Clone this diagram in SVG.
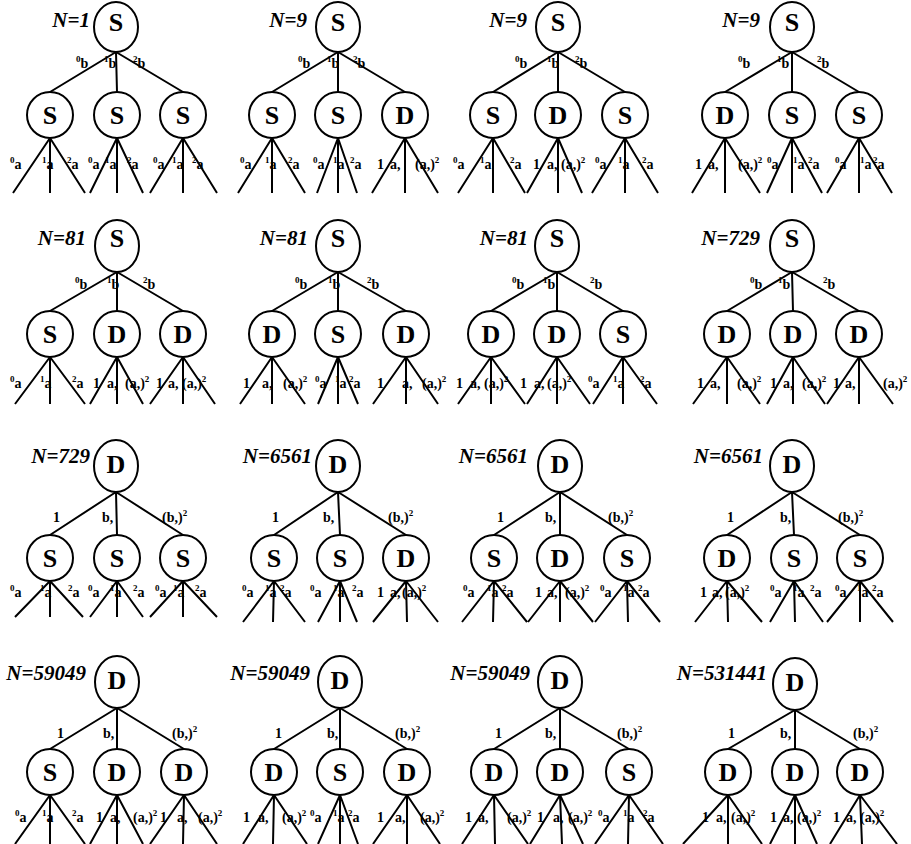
<svg xmlns="http://www.w3.org/2000/svg" width="911" height="844" viewBox="0 0 911 844">
<style>
text{font-family:"Times New Roman",Times,"Liberation Serif","DejaVu Serif","Noto Serif",serif}
.n{fill:#fff;stroke:#000;stroke-width:2}
.c path{fill:none;stroke:#000;stroke-width:2}
.t{font-weight:bold;font-size:26px;text-anchor:middle;fill:#000}
.l text{font-weight:bold;font-size:14px;fill:#000}
.s{font-size:9px}
.h{font-weight:bold;font-style:italic;font-size:21px;text-anchor:end;fill:#000}
</style>
<rect width="911" height="844" fill="#fff"/>
<g id="connectors" class="c">
<path d="M116 52L50 92M116 52L117 92M116 52L183 92M50 138L13 193M50 138L50 193M50 138L85 193M117 138L90 193M117 138L117 193M117 138L143 193M183 138L150 193M183 138L183 193M183 138L217 193"/>
<path d="M338 52L272 92M338 52L338 92M338 52L405 92M272 138L238 193M272 138L272 193M272 138L305 193M338 138L317 193M338 138L338 193M338 138L357 193M405 138L372 193M405 138L405 193M405 138L438 193"/>
<path d="M558 52L493 92M558 52L558 92M558 52L625 92M493 138L458 193M493 138L493 193M493 138L525 193M558 138L527 193M558 138L558 193M558 138L582 193M625 138L592 193M625 138L625 193M625 138L658 193"/>
<path d="M792 52L725 92M792 52L792 92M792 52L859 92M725 138L692 193M725 138L725 193M725 138L760 193M792 138L767 193M792 138L792 193M792 138L822 193M859 138L827 193M859 138L859 193M859 138L892 193"/>
<path d="M117 272L50 311M117 272L117 311M117 272L183 311M50 357L15 404M50 357L50 404M50 357L85 404M117 357L90 404M117 357L117 404M117 357L143 404M183 357L150 404M183 357L183 404M183 357L215 404"/>
<path d="M338 272L272 311M338 272L338 311M338 272L406 311M272 357L240 404M272 357L272 404M272 357L305 404M338 357L318 404M338 357L338 404M338 357L358 404M406 357L373 404M406 357L406 404M406 357L438 404"/>
<path d="M557 272L491 311M557 272L557 311M557 272L623 311M491 357L458 404M491 357L491 404M491 357L525 404M557 357L527 404M557 357L557 404M557 357L590 404M623 357L593 404M623 357L623 404M623 357L657 404"/>
<path d="M792 272L727 311M792 272L793 311M792 272L859 311M727 357L693 404M727 357L727 404M727 357L760 404M793 357L767 404M793 357L793 404M793 357L825 404M859 357L827 404M859 357L859 404M859 357L893 404"/>
<path d="M116 492L50 535M116 492L117 535M116 492L183 535M50 581L15 617M50 581L50 617M50 581L83 617M117 581L90 617M117 581L117 617M117 581L143 617M183 581L150 617M183 581L183 617M183 581L217 617"/>
<path d="M338 492L274 535M338 492L340 535M338 492L406 535M274 581L243 622M274 581L273 622M274 581L305 622M340 581L318 622M340 581L340 622M340 581L357 622M406 581L373 622M406 581L407 622M406 581L438 622"/>
<path d="M560 492L494 535M560 492L560 535M560 492L627 535M494 581L462 622M494 581L493 622M494 581L527 622M560 581L528 622M560 581L560 622M560 581L593 622M627 581L595 622M627 581L628 622M627 581L660 622"/>
<path d="M792 492L727 535M792 492L794 535M792 492L860 535M727 581L695 622M727 581L728 622M727 581L762 622M794 581L770 622M794 581L795 622M794 581L823 622M860 581L827 622M860 581L860 622M860 581L893 622"/>
<path d="M117 708L50 749M117 708L117 749M117 708L184 749M50 795L15 844M50 795L50 844M50 795L85 844M117 795L90 844M117 795L117 844M117 795L143 844M184 795L150 844M184 795L183 844M184 795L217 844"/>
<path d="M340 708L274 749M340 708L340 749M340 708L407 749M274 795L243 844M274 795L273 844M274 795L307 844M340 795L318 844M340 795L340 844M340 795L358 844M407 795L373 844M407 795L407 844M407 795L440 844"/>
<path d="M560 708L494 749M560 708L560 749M560 708L629 749M494 795L462 844M494 795L495 844M494 795L528 844M560 795L530 844M560 795L562 844M560 795L583 844M629 795L595 844M629 795L628 844M629 795L663 844"/>
<path d="M795 710L728 749M795 710L795 749M795 710L860 749M728 795L683 844M728 795L728 844M728 795L762 844M795 795L770 844M795 795L795 844M795 795L817 844M860 795L830 844M860 795L862 844M860 795L897 844"/>
</g>
<!-- Row 1 nodes -->
<g id="r1t1-root"><ellipse class="n" cx="116" cy="27" rx="22" ry="25"/><text class="t" x="116" y="31">S</text></g>
<g id="r1t1-c1"><circle class="n" cx="50" cy="115" r="23"/><text class="t" x="50" y="124">S</text></g>
<g id="r1t1-c2"><circle class="n" cx="117" cy="115" r="23"/><text class="t" x="117" y="124">S</text></g>
<g id="r1t1-c3"><circle class="n" cx="183" cy="115" r="23"/><text class="t" x="183" y="124">S</text></g>
<g id="r1t2-root"><ellipse class="n" cx="338" cy="27" rx="22" ry="25"/><text class="t" x="338" y="31">S</text></g>
<g id="r1t2-c1"><circle class="n" cx="272" cy="115" r="23"/><text class="t" x="272" y="124">S</text></g>
<g id="r1t2-c2"><circle class="n" cx="338" cy="115" r="23"/><text class="t" x="338" y="124">S</text></g>
<g id="r1t2-c3"><circle class="n" cx="405" cy="115" r="23"/><text class="t" x="405" y="124">D</text></g>
<g id="r1t3-root"><ellipse class="n" cx="558" cy="27" rx="22" ry="25"/><text class="t" x="558" y="31">S</text></g>
<g id="r1t3-c1"><circle class="n" cx="493" cy="115" r="23"/><text class="t" x="493" y="124">S</text></g>
<g id="r1t3-c2"><circle class="n" cx="558" cy="115" r="23"/><text class="t" x="558" y="124">D</text></g>
<g id="r1t3-c3"><circle class="n" cx="625" cy="115" r="23"/><text class="t" x="625" y="124">S</text></g>
<g id="r1t4-root"><ellipse class="n" cx="792" cy="27" rx="22" ry="25"/><text class="t" x="792" y="31">S</text></g>
<g id="r1t4-c1"><circle class="n" cx="725" cy="115" r="23"/><text class="t" x="725" y="124">D</text></g>
<g id="r1t4-c2"><circle class="n" cx="792" cy="115" r="23"/><text class="t" x="792" y="124">S</text></g>
<g id="r1t4-c3"><circle class="n" cx="859" cy="115" r="23"/><text class="t" x="859" y="124">S</text></g>
<!-- Row 2 nodes -->
<g id="r2t1-root"><ellipse class="n" cx="117" cy="246" rx="22" ry="26"/><text class="t" x="117" y="247">S</text></g>
<g id="r2t1-c1"><circle class="n" cx="50" cy="334" r="23"/><text class="t" x="50" y="343">S</text></g>
<g id="r2t1-c2"><circle class="n" cx="117" cy="334" r="23"/><text class="t" x="117" y="343">D</text></g>
<g id="r2t1-c3"><circle class="n" cx="183" cy="334" r="23"/><text class="t" x="183" y="343">D</text></g>
<g id="r2t2-root"><ellipse class="n" cx="338" cy="246" rx="22" ry="26"/><text class="t" x="338" y="247">S</text></g>
<g id="r2t2-c1"><circle class="n" cx="272" cy="334" r="23"/><text class="t" x="272" y="343">D</text></g>
<g id="r2t2-c2"><circle class="n" cx="338" cy="334" r="23"/><text class="t" x="338" y="343">S</text></g>
<g id="r2t2-c3"><circle class="n" cx="406" cy="334" r="23"/><text class="t" x="406" y="343">D</text></g>
<g id="r2t3-root"><ellipse class="n" cx="557" cy="246" rx="22" ry="26"/><text class="t" x="557" y="247">S</text></g>
<g id="r2t3-c1"><circle class="n" cx="491" cy="334" r="23"/><text class="t" x="491" y="343">D</text></g>
<g id="r2t3-c2"><circle class="n" cx="557" cy="334" r="23"/><text class="t" x="557" y="343">D</text></g>
<g id="r2t3-c3"><circle class="n" cx="623" cy="334" r="23"/><text class="t" x="623" y="343">S</text></g>
<g id="r2t4-root"><ellipse class="n" cx="792" cy="246" rx="22" ry="26"/><text class="t" x="792" y="247">S</text></g>
<g id="r2t4-c1"><circle class="n" cx="727" cy="334" r="23"/><text class="t" x="727" y="343">D</text></g>
<g id="r2t4-c2"><circle class="n" cx="793" cy="334" r="23"/><text class="t" x="793" y="343">D</text></g>
<g id="r2t4-c3"><circle class="n" cx="859" cy="334" r="23"/><text class="t" x="859" y="343">D</text></g>
<!-- Row 3 nodes -->
<g id="r3t1-root"><ellipse class="n" cx="116" cy="466" rx="22" ry="26"/><text class="t" x="116" y="473">D</text></g>
<g id="r3t1-c1"><circle class="n" cx="50" cy="558" r="23"/><text class="t" x="50" y="567">S</text></g>
<g id="r3t1-c2"><circle class="n" cx="117" cy="558" r="23"/><text class="t" x="117" y="567">S</text></g>
<g id="r3t1-c3"><circle class="n" cx="183" cy="558" r="23"/><text class="t" x="183" y="567">S</text></g>
<g id="r3t2-root"><ellipse class="n" cx="338" cy="466" rx="22" ry="26"/><text class="t" x="338" y="473">D</text></g>
<g id="r3t2-c1"><circle class="n" cx="274" cy="558" r="23"/><text class="t" x="274" y="567">S</text></g>
<g id="r3t2-c2"><circle class="n" cx="340" cy="558" r="23"/><text class="t" x="340" y="567">S</text></g>
<g id="r3t2-c3"><circle class="n" cx="406" cy="558" r="23"/><text class="t" x="406" y="567">D</text></g>
<g id="r3t3-root"><ellipse class="n" cx="560" cy="466" rx="22" ry="26"/><text class="t" x="560" y="473">D</text></g>
<g id="r3t3-c1"><circle class="n" cx="494" cy="558" r="23"/><text class="t" x="494" y="567">S</text></g>
<g id="r3t3-c2"><circle class="n" cx="560" cy="558" r="23"/><text class="t" x="560" y="567">D</text></g>
<g id="r3t3-c3"><circle class="n" cx="627" cy="558" r="23"/><text class="t" x="627" y="567">S</text></g>
<g id="r3t4-root"><ellipse class="n" cx="792" cy="466" rx="22" ry="26"/><text class="t" x="792" y="473">D</text></g>
<g id="r3t4-c1"><circle class="n" cx="727" cy="558" r="23"/><text class="t" x="727" y="567">D</text></g>
<g id="r3t4-c2"><circle class="n" cx="794" cy="558" r="23"/><text class="t" x="794" y="567">S</text></g>
<g id="r3t4-c3"><circle class="n" cx="860" cy="558" r="23"/><text class="t" x="860" y="567">S</text></g>
<!-- Row 4 nodes -->
<g id="r4t1-root"><ellipse class="n" cx="117" cy="682" rx="22" ry="26"/><text class="t" x="117" y="689">D</text></g>
<g id="r4t1-c1"><circle class="n" cx="50" cy="772" r="23"/><text class="t" x="50" y="781">S</text></g>
<g id="r4t1-c2"><circle class="n" cx="117" cy="772" r="23"/><text class="t" x="117" y="781">D</text></g>
<g id="r4t1-c3"><circle class="n" cx="184" cy="772" r="23"/><text class="t" x="184" y="781">D</text></g>
<g id="r4t2-root"><ellipse class="n" cx="340" cy="682" rx="22" ry="26"/><text class="t" x="340" y="689">D</text></g>
<g id="r4t2-c1"><circle class="n" cx="274" cy="772" r="23"/><text class="t" x="274" y="781">D</text></g>
<g id="r4t2-c2"><circle class="n" cx="340" cy="772" r="23"/><text class="t" x="340" y="781">S</text></g>
<g id="r4t2-c3"><circle class="n" cx="407" cy="772" r="23"/><text class="t" x="407" y="781">D</text></g>
<g id="r4t3-root"><ellipse class="n" cx="560" cy="682" rx="22" ry="26"/><text class="t" x="560" y="689">D</text></g>
<g id="r4t3-c1"><circle class="n" cx="494" cy="772" r="23"/><text class="t" x="494" y="781">D</text></g>
<g id="r4t3-c2"><circle class="n" cx="560" cy="772" r="23"/><text class="t" x="560" y="781">D</text></g>
<g id="r4t3-c3"><circle class="n" cx="629" cy="772" r="23"/><text class="t" x="629" y="781">S</text></g>
<g id="r4t4-root"><ellipse class="n" cx="795" cy="684" rx="22" ry="26"/><text class="t" x="795" y="691">D</text></g>
<g id="r4t4-c1"><circle class="n" cx="728" cy="772" r="23"/><text class="t" x="728" y="781">D</text></g>
<g id="r4t4-c2"><circle class="n" cx="795" cy="772" r="23"/><text class="t" x="795" y="781">D</text></g>
<g id="r4t4-c3"><circle class="n" cx="860" cy="772" r="23"/><text class="t" x="860" y="781">D</text></g>
<!-- Titles -->
<g id="titles">
<text class="h" x="90" y="27">N=1</text>
<text class="h" x="307" y="27">N=9</text>
<text class="h" x="527" y="27">N=9</text>
<text class="h" x="760" y="27">N=9</text>
<text class="h" x="86" y="245">N=81</text>
<text class="h" x="308" y="245">N=81</text>
<text class="h" x="528" y="245">N=81</text>
<text class="h" x="760" y="245">N=729</text>
<text class="h" x="90" y="463">N=729</text>
<text class="h" x="312" y="463">N=6561</text>
<text class="h" x="528" y="463">N=6561</text>
<text class="h" x="763" y="463">N=6561</text>
<text class="h" x="86" y="680">N=59049</text>
<text class="h" x="310" y="680">N=59049</text>
<text class="h" x="530" y="680">N=59049</text>
<text class="h" x="767" y="680">N=531441</text>
</g>
<g id="labels" class="l">
<!-- Row 1 edge labels -->
<text x="76" y="68"><tspan class="s" dy="-6">0</tspan><tspan dy="6">b</tspan></text>
<text x="104" y="68"><tspan class="s" dy="-6">1</tspan><tspan dy="6">b</tspan></text>
<text x="133" y="68"><tspan class="s" dy="-6">2</tspan><tspan dy="6">b</tspan></text>
<text x="298" y="68"><tspan class="s" dy="-6">0</tspan><tspan dy="6">b</tspan></text>
<text x="327" y="68"><tspan class="s" dy="-6">1</tspan><tspan dy="6">b</tspan></text>
<text x="353" y="68"><tspan class="s" dy="-6">2</tspan><tspan dy="6">b</tspan></text>
<text x="515" y="68"><tspan class="s" dy="-6">0</tspan><tspan dy="6">b</tspan></text>
<text x="547" y="68"><tspan class="s" dy="-6">1</tspan><tspan dy="6">b</tspan></text>
<text x="575" y="68"><tspan class="s" dy="-6">2</tspan><tspan dy="6">b</tspan></text>
<text x="738" y="68"><tspan class="s" dy="-6">0</tspan><tspan dy="6">b</tspan></text>
<text x="777" y="68"><tspan class="s" dy="-6">1</tspan><tspan dy="6">b</tspan></text>
<text x="817" y="68"><tspan class="s" dy="-6">2</tspan><tspan dy="6">b</tspan></text>
<!-- Row 1 leaf labels -->
<text x="10" y="169"><tspan class="s" dy="-6">0</tspan><tspan dy="6">a</tspan></text>
<text x="42" y="169"><tspan class="s" dy="-6">1</tspan><tspan dy="6">a</tspan></text>
<text x="67" y="169"><tspan class="s" dy="-6">2</tspan><tspan dy="6">a</tspan></text>
<text x="88" y="169"><tspan class="s" dy="-6">0</tspan><tspan dy="6">a</tspan></text>
<text x="105" y="169"><tspan class="s" dy="-6">1</tspan><tspan dy="6">a</tspan></text>
<text x="127" y="169"><tspan class="s" dy="-6">2</tspan><tspan dy="6">a</tspan></text>
<text x="153" y="169"><tspan class="s" dy="-6">0</tspan><tspan dy="6">a</tspan></text>
<text x="172" y="169"><tspan class="s" dy="-6">1</tspan><tspan dy="6">a</tspan></text>
<text x="192" y="169"><tspan class="s" dy="-6">2</tspan><tspan dy="6">a</tspan></text>
<text x="240" y="169"><tspan class="s" dy="-6">0</tspan><tspan dy="6">a</tspan></text>
<text x="265" y="169"><tspan class="s" dy="-6">1</tspan><tspan dy="6">a</tspan></text>
<text x="288" y="169"><tspan class="s" dy="-6">2</tspan><tspan dy="6">a</tspan></text>
<text x="313" y="169"><tspan class="s" dy="-6">0</tspan><tspan dy="6">a</tspan></text>
<text x="333" y="169"><tspan class="s" dy="-6">1</tspan><tspan dy="6">a</tspan></text>
<text x="350" y="169"><tspan class="s" dy="-6">2</tspan><tspan dy="6">a</tspan></text>
<text x="377" y="169">1</text><text x="390" y="169">a,</text><text x="415" y="169">(a,)<tspan class="s" dy="-6">2</tspan></text>
<text x="453" y="169"><tspan class="s" dy="-6">0</tspan><tspan dy="6">a</tspan></text>
<text x="480" y="169"><tspan class="s" dy="-6">1</tspan><tspan dy="6">a</tspan></text>
<text x="510" y="169"><tspan class="s" dy="-6">2</tspan><tspan dy="6">a</tspan></text>
<text x="533" y="169">1</text><text x="547" y="169">a,</text><text x="561" y="169">(a,)<tspan class="s" dy="-6">2</tspan></text>
<text x="595" y="169"><tspan class="s" dy="-6">0</tspan><tspan dy="6">a</tspan></text>
<text x="618" y="169"><tspan class="s" dy="-6">1</tspan><tspan dy="6">a</tspan></text>
<text x="642" y="169"><tspan class="s" dy="-6">2</tspan><tspan dy="6">a</tspan></text>
<text x="695" y="169">1</text><text x="708" y="169">a,</text><text x="738" y="169">(a,)<tspan class="s" dy="-6">2</tspan></text>
<text x="767" y="169"><tspan class="s" dy="-6">0</tspan><tspan dy="6">a</tspan></text>
<text x="793" y="169"><tspan class="s" dy="-6">1</tspan><tspan dy="6">a</tspan></text>
<text x="808" y="169"><tspan class="s" dy="-6">2</tspan><tspan dy="6">a</tspan></text>
<text x="835" y="169"><tspan class="s" dy="-6">0</tspan><tspan dy="6">a</tspan></text>
<text x="860" y="169"><tspan class="s" dy="-6">1</tspan><tspan dy="6">a</tspan></text>
<text x="873" y="169"><tspan class="s" dy="-6">2</tspan><tspan dy="6">a</tspan></text>
<!-- Row 2 edge labels -->
<text x="75" y="289"><tspan class="s" dy="-6">0</tspan><tspan dy="6">b</tspan></text>
<text x="107" y="289"><tspan class="s" dy="-6">1</tspan><tspan dy="6">b</tspan></text>
<text x="143" y="289"><tspan class="s" dy="-6">2</tspan><tspan dy="6">b</tspan></text>
<text x="295" y="289"><tspan class="s" dy="-6">0</tspan><tspan dy="6">b</tspan></text>
<text x="328" y="289"><tspan class="s" dy="-6">1</tspan><tspan dy="6">b</tspan></text>
<text x="367" y="289"><tspan class="s" dy="-6">2</tspan><tspan dy="6">b</tspan></text>
<text x="512" y="289"><tspan class="s" dy="-6">0</tspan><tspan dy="6">b</tspan></text>
<text x="543" y="289"><tspan class="s" dy="-6">1</tspan><tspan dy="6">b</tspan></text>
<text x="590" y="289"><tspan class="s" dy="-6">2</tspan><tspan dy="6">b</tspan></text>
<text x="750" y="289"><tspan class="s" dy="-6">0</tspan><tspan dy="6">b</tspan></text>
<text x="778" y="289"><tspan class="s" dy="-6">1</tspan><tspan dy="6">b</tspan></text>
<text x="823" y="289"><tspan class="s" dy="-6">2</tspan><tspan dy="6">b</tspan></text>
<!-- Row 2 leaf labels -->
<text x="10" y="388"><tspan class="s" dy="-6">0</tspan><tspan dy="6">a</tspan></text>
<text x="40" y="388"><tspan class="s" dy="-6">1</tspan><tspan dy="6">a</tspan></text>
<text x="72" y="388"><tspan class="s" dy="-6">2</tspan><tspan dy="6">a</tspan></text>
<text x="93" y="388">1</text><text x="107" y="388">a,</text><text x="125" y="388">(a,)<tspan class="s" dy="-6">2</tspan></text>
<text x="156" y="388">1</text><text x="168" y="388">a,</text><text x="182" y="388">(a,)<tspan class="s" dy="-6">2</tspan></text>
<text x="243" y="388">1</text><text x="262" y="388">a,</text><text x="283" y="388">(a,)<tspan class="s" dy="-6">2</tspan></text>
<text x="315" y="388"><tspan class="s" dy="-6">0</tspan><tspan dy="6">a</tspan></text>
<text x="335" y="388"><tspan class="s" dy="-6">1</tspan><tspan dy="6">a</tspan></text>
<text x="349" y="388"><tspan class="s" dy="-6">2</tspan><tspan dy="6">a</tspan></text>
<text x="377" y="388">1</text><text x="402" y="388">a,</text><text x="422" y="388">(a,)<tspan class="s" dy="-6">2</tspan></text>
<text x="456" y="388">1</text><text x="470" y="388">a,</text><text x="484" y="388">(a,)<tspan class="s" dy="-6">2</tspan></text>
<text x="520" y="388">1</text><text x="534" y="388">a,</text><text x="547" y="388">(a,)<tspan class="s" dy="-6">2</tspan></text>
<text x="588" y="388"><tspan class="s" dy="-6">0</tspan><tspan dy="6">a</tspan></text>
<text x="613" y="388"><tspan class="s" dy="-6">1</tspan><tspan dy="6">a</tspan></text>
<text x="640" y="388"><tspan class="s" dy="-6">2</tspan><tspan dy="6">a</tspan></text>
<text x="697" y="388">1</text><text x="710" y="388">a,</text><text x="737" y="388">(a,)<tspan class="s" dy="-6">2</tspan></text>
<text x="770" y="388">1</text><text x="783" y="388">a,</text><text x="802" y="388">(a,)<tspan class="s" dy="-6">2</tspan></text>
<text x="833" y="388">1</text><text x="845" y="388">a,</text><text x="883" y="388">(a,)<tspan class="s" dy="-6">2</tspan></text>
<!-- Row 3 edge labels -->
<text x="53" y="522">1</text><text x="102" y="522">b,</text><text x="162" y="522">(b,)<tspan class="s" dy="-6">2</tspan></text>
<text x="272" y="522">1</text><text x="323" y="522">b,</text><text x="388" y="522">(b,)<tspan class="s" dy="-6">2</tspan></text>
<text x="497" y="522">1</text><text x="545" y="522">b,</text><text x="608" y="522">(b,)<tspan class="s" dy="-6">2</tspan></text>
<text x="727" y="522">1</text><text x="780" y="522">b,</text><text x="838" y="522">(b,)<tspan class="s" dy="-6">2</tspan></text>
<!-- Row 3 leaf labels -->
<text x="10" y="597"><tspan class="s" dy="-6">0</tspan><tspan dy="6">a</tspan></text>
<text x="40" y="597"><tspan class="s" dy="-6">1</tspan><tspan dy="6">a</tspan></text>
<text x="68" y="597"><tspan class="s" dy="-6">2</tspan><tspan dy="6">a</tspan></text>
<text x="88" y="597"><tspan class="s" dy="-6">0</tspan><tspan dy="6">a</tspan></text>
<text x="110" y="597"><tspan class="s" dy="-6">1</tspan><tspan dy="6">a</tspan></text>
<text x="133" y="597"><tspan class="s" dy="-6">2</tspan><tspan dy="6">a</tspan></text>
<text x="155" y="597"><tspan class="s" dy="-6">0</tspan><tspan dy="6">a</tspan></text>
<text x="173" y="597"><tspan class="s" dy="-6">1</tspan><tspan dy="6">a</tspan></text>
<text x="195" y="597"><tspan class="s" dy="-6">2</tspan><tspan dy="6">a</tspan></text>
<text x="242" y="597"><tspan class="s" dy="-6">0</tspan><tspan dy="6">a</tspan></text>
<text x="265" y="597"><tspan class="s" dy="-6">1</tspan><tspan dy="6">a</tspan></text>
<text x="280" y="597"><tspan class="s" dy="-6">2</tspan><tspan dy="6">a</tspan></text>
<text x="310" y="597"><tspan class="s" dy="-6">0</tspan><tspan dy="6">a</tspan></text>
<text x="333" y="597"><tspan class="s" dy="-6">1</tspan><tspan dy="6">a</tspan></text>
<text x="352" y="597"><tspan class="s" dy="-6">2</tspan><tspan dy="6">a</tspan></text>
<text x="377" y="597">1</text><text x="390" y="597">a,</text><text x="402" y="597">(a,)<tspan class="s" dy="-6">2</tspan></text>
<text x="463" y="597"><tspan class="s" dy="-6">0</tspan><tspan dy="6">a</tspan></text>
<text x="487" y="597"><tspan class="s" dy="-6">1</tspan><tspan dy="6">a</tspan></text>
<text x="502" y="597"><tspan class="s" dy="-6">2</tspan><tspan dy="6">a</tspan></text>
<text x="535" y="597">1</text><text x="547" y="597">a,</text><text x="565" y="597">(a,)<tspan class="s" dy="-6">2</tspan></text>
<text x="600" y="597"><tspan class="s" dy="-6">0</tspan><tspan dy="6">a</tspan></text>
<text x="623" y="597"><tspan class="s" dy="-6">1</tspan><tspan dy="6">a</tspan></text>
<text x="638" y="597"><tspan class="s" dy="-6">2</tspan><tspan dy="6">a</tspan></text>
<text x="700" y="597">1</text><text x="712" y="597">a,</text><text x="725" y="597">(a,)<tspan class="s" dy="-6">2</tspan></text>
<text x="770" y="597"><tspan class="s" dy="-6">0</tspan><tspan dy="6">a</tspan></text>
<text x="793" y="597"><tspan class="s" dy="-6">1</tspan><tspan dy="6">a</tspan></text>
<text x="810" y="597"><tspan class="s" dy="-6">2</tspan><tspan dy="6">a</tspan></text>
<text x="835" y="597"><tspan class="s" dy="-6">0</tspan><tspan dy="6">a</tspan></text>
<text x="857" y="597"><tspan class="s" dy="-6">1</tspan><tspan dy="6">a</tspan></text>
<text x="872" y="597"><tspan class="s" dy="-6">2</tspan><tspan dy="6">a</tspan></text>
<!-- Row 4 edge labels -->
<text x="57" y="738">1</text><text x="103" y="738">b,</text><text x="172" y="738">(b,)<tspan class="s" dy="-6">2</tspan></text>
<text x="275" y="738">1</text><text x="327" y="738">b,</text><text x="395" y="738">(b,)<tspan class="s" dy="-6">2</tspan></text>
<text x="495" y="738">1</text><text x="545" y="738">b,</text><text x="617" y="738">(b,)<tspan class="s" dy="-6">2</tspan></text>
<text x="728" y="738">1</text><text x="780" y="738">b,</text><text x="853" y="738">(b,)<tspan class="s" dy="-6">2</tspan></text>
<!-- Row 4 leaf labels -->
<text x="15" y="822"><tspan class="s" dy="-6">0</tspan><tspan dy="6">a</tspan></text>
<text x="42" y="822"><tspan class="s" dy="-6">1</tspan><tspan dy="6">a</tspan></text>
<text x="72" y="822"><tspan class="s" dy="-6">2</tspan><tspan dy="6">a</tspan></text>
<text x="96" y="822">1</text><text x="110" y="822">a,</text><text x="133" y="822">(a,)<tspan class="s" dy="-6">2</tspan></text>
<text x="160" y="822">1</text><text x="177" y="822">a,</text><text x="198" y="822">(a,)<tspan class="s" dy="-6">2</tspan></text>
<text x="243" y="822">1</text><text x="258" y="822">a,</text><text x="282" y="822">(a,)<tspan class="s" dy="-6">2</tspan></text>
<text x="310" y="822"><tspan class="s" dy="-6">0</tspan><tspan dy="6">a</tspan></text>
<text x="333" y="822"><tspan class="s" dy="-6">1</tspan><tspan dy="6">a</tspan></text>
<text x="348" y="822"><tspan class="s" dy="-6">2</tspan><tspan dy="6">a</tspan></text>
<text x="377" y="822">1</text><text x="395" y="822">a,</text><text x="420" y="822">(a,)<tspan class="s" dy="-6">2</tspan></text>
<text x="465" y="822">1</text><text x="478" y="822">a,</text><text x="507" y="822">(a,)<tspan class="s" dy="-6">2</tspan></text>
<text x="537" y="822">1</text><text x="553" y="822">a,</text><text x="568" y="822">(a,)<tspan class="s" dy="-6">2</tspan></text>
<text x="598" y="822"><tspan class="s" dy="-6">0</tspan><tspan dy="6">a</tspan></text>
<text x="623" y="822"><tspan class="s" dy="-6">1</tspan><tspan dy="6">a</tspan></text>
<text x="643" y="822"><tspan class="s" dy="-6">2</tspan><tspan dy="6">a</tspan></text>
<text x="702" y="822">1</text><text x="716" y="822">a,</text><text x="731" y="822">(a,)<tspan class="s" dy="-6">2</tspan></text>
<text x="770" y="822">1</text><text x="783" y="822">a,</text><text x="797" y="822">(a,)<tspan class="s" dy="-6">2</tspan></text>
<text x="833" y="822">1</text><text x="846" y="822">a,</text><text x="860" y="822">(a,)<tspan class="s" dy="-6">2</tspan></text>
</g>
</svg>
